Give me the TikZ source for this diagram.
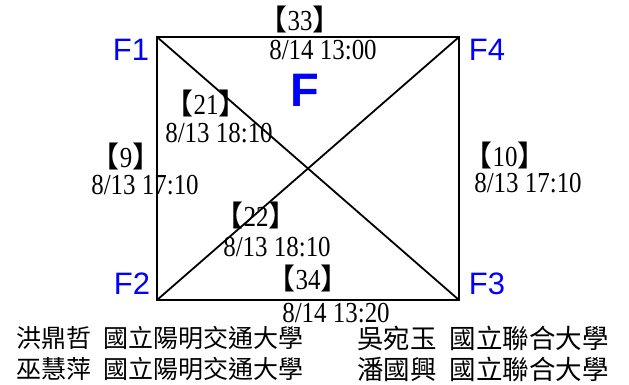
\documentclass[tikz,border=0pt]{standalone}
\usepackage{fontspec}
\setmainfont{Liberation Serif}[FakeStretch=0.86]
\setsansfont{Liberation Sans}
\newfontfamily\cjk{Noto Sans CJK TC}[RawFeature=+halt]
\newfontfamily\cjkname{Noto Sans CJK TC}
\usetikzlibrary{positioning}
\definecolor{fblue}{RGB}{0,0,255}
\newcommand{\cnt}[1]{{\cjk 【}#1{\cjk 】}}

\begin{document}
\begin{tikzpicture}[
    x=1pt, y=-1pt,
    edge/.style={draw, line width=1.8pt},
    corner/.style={inner sep=0pt, text=fblue,
        font=\sffamily\fontsize{31}{31}\selectfont},
    count/.style={inner sep=0pt, font=\fontsize{29}{29}\selectfont},
    when/.style={inner sep=0pt, font=\fontsize{29}{29}\selectfont},
    who/.style={inner sep=0pt, anchor=west}
  ]
  \useasboundingbox (0,0) rectangle (629,385);

  % corners of the square
  \coordinate (c1) at (157,37);
  \coordinate (c4) at (459,37);
  \coordinate (c2) at (157,300);
  \coordinate (c3) at (459,300);
  \draw[edge] (c1) -- (c4) -- (c3) -- (c2) -- cycle;
  \draw[edge] (c1) -- (c3);
  \draw[edge] (c2) -- (c4);

  \node[corner] (f1) at (131,50) {F1};
  \node[corner] (f4) at (487,50) {F4};
  \node[corner] (f2) at (132,284) {F2};
  \node[corner] (f3) at (487,284) {F3};
  \node[inner sep=0pt, text=fblue,
    font=\sffamily\bfseries\fontsize{47}{47}\selectfont] (ff) at (305,90) {F};

  % counts and times
  \node[count] (b33) at (300,19) {\cnt{33}};
  \node[when] (t33) at (323,50) {8/14 13:00};
  \node[count] (b21) at (206,103) {\cnt{21}};
  \node[when] (t21) at (219,133) {8/13 18:10};
  \node[count] (b9) at (126,156) {\cnt{9}};
  \node[when] (t9) at (145,185) {8/13 17:10};
  \node[count] (b10) at (505,155) {\cnt{10}};
  \node[when] (t10) at (528,183) {8/13 17:10};
  \node[count] (b22) at (256,215) {\cnt{22}};
  \node[when] (t22) at (277,247) {8/13 18:10};
  \node[count] (b34) at (308,278) {\cnt{34}};
  \node[when] (t34) at (336,313) {8/14 13:20};

  % names
  \node[who, font=\cjkname\fontsize{25}{25}\selectfont] (w1) at (16,338)
    {洪鼎哲\hspace{0.5em}國立陽明交通大學};
  \node[who, font=\cjkname\fontsize{25}{25}\selectfont] (w2) at (16,369)
    {巫慧萍\hspace{0.5em}國立陽明交通大學};
  \node[who, font=\cjkname\fontsize{26.5}{26.5}\selectfont] (w3) at (357,338)
    {吳宛玉\hspace{0.5em}國立聯合大學};
  \node[who, font=\cjkname\fontsize{26.5}{26.5}\selectfont] (w4) at (357,369)
    {潘國興\hspace{0.5em}國立聯合大學};
\end{tikzpicture}
\end{document}
